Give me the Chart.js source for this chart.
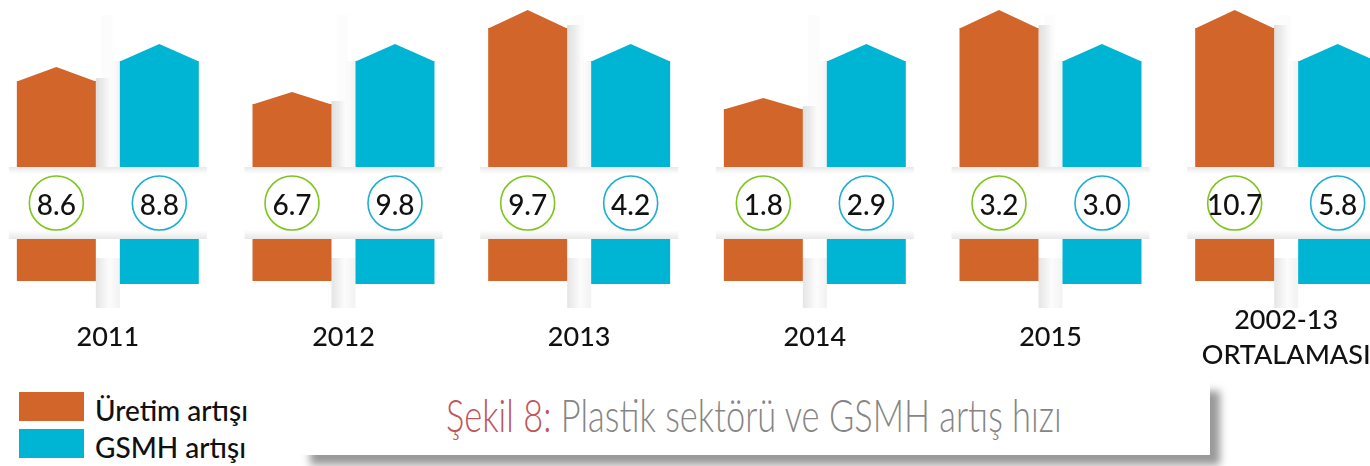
<!DOCTYPE html>
<html>
<head>
<meta charset="utf-8">
<script src="https://cdn.jsdelivr.net/npm/chart.js@4.4.1/dist/chart.umd.min.js"></script>
<style>
    html, body { margin: 0; padding: 0; background: #fff; }
    body { width: 1370px; height: 466px; overflow: hidden; position: relative; font-family: Lato, sans-serif; }
    #wrap { position: absolute; left: -10px; top: 0; width: 1414px; height: 368px; }
    #legend { position: absolute; left: 19px; top: 392px; }
    .item { display: flex; align-items: center; height: 29px; margin-bottom: 8px; font-size: 28px; font-weight: 500; color: #111; }
    .item span { position: relative; top: 3px; }
    .box { width: 65px; height: 29px; margin-right: 11px; }
    #titleBox { position: absolute; left: 300px; top: 381px; width: 910px; height: 74px; background: #fff; box-shadow: 10px 10px 8px #999; }
    #title { position: absolute; left: 146px; top: 6px; display: inline-block; white-space: nowrap; font: 300 46px Lato, sans-serif; line-height: normal; color: #858585; transform-origin: left center; }
    #title .red { color: #c0555b; }
</style>
</head>
<body>
<div id="wrap"><canvas id="chart"></canvas></div>
<div id="legend"></div>
<div id="titleBox"><div id="title"><span class="red">Şekil 8:</span> Plastik sektörü ve GSMH artış hızı</div></div>

<script>
// Categories and the printed growth rates
const categories = ['2011', '2012', '2013', '2014', '2015', ['2002-13', 'ORTALAMASI']];
const uretim = [8.6, 6.7, 9.7, 1.8, 3.2, 10.7];
const gsmh = [8.8, 9.8, 4.2, 2.9, 3.0, 5.8];

// Drawn bar heights (the picture does not scale them to the values)
const uretimBar = [86, 63, 139, 58, 139, 139];
const uretimRoof = [14, 12, 18, 11, 18, 18];
const gsmhBar = [106, 106, 106, 106, 106, 106];
const gsmhRoof = [17, 17, 17, 17, 17, 17];

const seriesNames = ['Üretim artışı', 'GSMH artışı'];
const seriesColors = ['#d2652a', '#00b4d3'];
const ringColors = ['#7dc51f', '#1eaed2'];

// Layout levels on the y scale
const circleLevel = -36;
const stubTop = -72;
const stubBottom = [-114, -117];

// Build the legend
const legend = document.getElementById('legend');
seriesNames.forEach((name, i) => {
    const item = document.createElement('div');
    item.className = 'item';
    item.innerHTML = `<div class="box" style="background:${seriesColors[i]}"></div><span>${name}</span>`;
    legend.appendChild(item);
});

// Squeeze the title to the condensed width of the original
const title = document.getElementById('title');
title.style.transform = `scaleX(${616 / title.offsetWidth})`;

// Shadows, roofs and value circles
const decor = {
    id: 'decor',
    beforeDatasetsDraw(chart) {
        const ctx = chart.ctx;
        const y = chart.scales.y;
        const base = y.getPixelForValue(0);
        const sTop = y.getPixelForValue(stubTop);
        const top = chart.chartArea.top;
        const ob = chart.getDatasetMeta(0).data;
        const gb = chart.getDatasetMeta(1).data;
        ctx.save();
        ob.forEach((bar, i) => {
            const g2 = gb[i];
            const left = bar.x - bar.width / 2;
            const oR = bar.x + bar.width / 2;
            const bL = g2.x - g2.width / 2;
            const right = g2.x + g2.width / 2;
            const gap = bL - oR;
            let g;

            // faint column behind the gap
            ctx.fillStyle = 'rgba(0,0,0,0.012)';
            ctx.fillRect(oR + 5, top + 15, gap - 12, base - top - 15);

            // shadow right of the orange bar
            g = ctx.createLinearGradient(oR, 0, oR + gap * 0.6, 0);
            g.addColorStop(0, 'rgba(0,0,0,0.13)');
            g.addColorStop(1, 'rgba(0,0,0,0)');
            ctx.fillStyle = g;
            ctx.fillRect(oR, bar.y - 3, gap * 0.6, base - bar.y + 3);

            // shadow left of the blue bar
            g = ctx.createLinearGradient(bL - gap * 0.4, 0, bL, 0);
            g.addColorStop(0, 'rgba(0,0,0,0)');
            g.addColorStop(1, 'rgba(0,0,0,0.05)');
            ctx.fillStyle = g;
            ctx.fillRect(bL - gap * 0.4, g2.y, gap * 0.4, base - g2.y);

            // band shadow under the bars
            g = ctx.createLinearGradient(0, base, 0, base + 7);
            g.addColorStop(0, 'rgba(0,0,0,0.09)');
            g.addColorStop(1, 'rgba(0,0,0,0)');
            ctx.fillStyle = g;
            ctx.fillRect(left - 8, base, right - left + 16, 7);

            // band shadow above the stubs
            g = ctx.createLinearGradient(0, sTop - 9, 0, sTop);
            g.addColorStop(0, 'rgba(0,0,0,0)');
            g.addColorStop(1, 'rgba(0,0,0,0.09)');
            ctx.fillStyle = g;
            ctx.fillRect(left - 8, sTop - 9, right - left + 16, 9);

            // column between the stubs
            g = ctx.createLinearGradient(oR, 0, bL, 0);
            g.addColorStop(0, 'rgba(0,0,0,0.10)');
            g.addColorStop(0.55, 'rgba(0,0,0,0.01)');
            g.addColorStop(1, 'rgba(0,0,0,0.05)');
            ctx.fillStyle = g;
            ctx.fillRect(oR, sTop + 19, gap, 50);
        });
        ctx.restore();
    },
    afterDatasetsDraw(chart) {
        const ctx = chart.ctx;
        const y = chart.scales.y;
        const cy = y.getPixelForValue(circleLevel);
        ctx.save();
        [[uretimBar, uretimRoof, uretim], [gsmhBar, gsmhRoof, gsmh]].forEach(([bars, roofs, vals], di) => {
            chart.getDatasetMeta(di).data.forEach((bar, i) => {
                // pointed roof
                const peak = y.getPixelForValue(bars[i] + roofs[i]);
                ctx.beginPath();
                ctx.moveTo(bar.x - bar.width / 2, bar.y + 0.5);
                ctx.lineTo(bar.x, peak);
                ctx.lineTo(bar.x + bar.width / 2, bar.y + 0.5);
                ctx.closePath();
                ctx.fillStyle = seriesColors[di];
                ctx.fill();

                // value circle
                ctx.beginPath();
                ctx.arc(bar.x, cy, 27, 0, Math.PI * 2);
                ctx.fillStyle = '#fff';
                ctx.fill();
                ctx.lineWidth = 1.6;
                ctx.strokeStyle = ringColors[di];
                ctx.stroke();
                ctx.fillStyle = '#111';
                ctx.font = '500 28px Lato';
                ctx.textAlign = 'center';
                ctx.textBaseline = 'alphabetic';
                ctx.fillText(vals[i].toFixed(1), bar.x, cy + 12);
            });
        });
        ctx.restore();
    }
};

new Chart(document.getElementById('chart'), {
    type: 'bar',
    data: {
        labels: categories,
        datasets: [
            { label: seriesNames[0], data: uretimBar, backgroundColor: seriesColors[0], stack: 'u' },
            { label: seriesNames[1], data: gsmhBar, backgroundColor: seriesColors[1], stack: 'g' },
            { label: seriesNames[0], data: categories.map(() => [stubTop, stubBottom[0]]), backgroundColor: seriesColors[0], stack: 'u' },
            { label: seriesNames[1], data: categories.map(() => [stubTop, stubBottom[1]]), backgroundColor: seriesColors[1], stack: 'g' }
        ]
    },
    options: {
        responsive: true,
        maintainAspectRatio: false,
        animation: false,
        layout: { padding: 0 },
        categoryPercentage: 0.874,
        barPercentage: 0.767,
        plugins: {
            legend: { display: false },
            tooltip: { enabled: false }
        },
        scales: {
            x: {
                stacked: true,
                afterFit: (scale) => { scale.height = 68; },
                grid: { display: false, drawTicks: false },
                border: { display: false },
                ticks: {
                    padding: 20,
                    crossAlign: 'center',
                    color: '#111',
                    font: { family: 'Lato', size: 27, weight: '500', lineHeight: 1.3 }
                }
            },
            y: {
                stacked: false,
                display: false,
                min: -133,
                max: 167
            }
        }
    },
    plugins: [decor]
});
</script>
</body>
</html>
